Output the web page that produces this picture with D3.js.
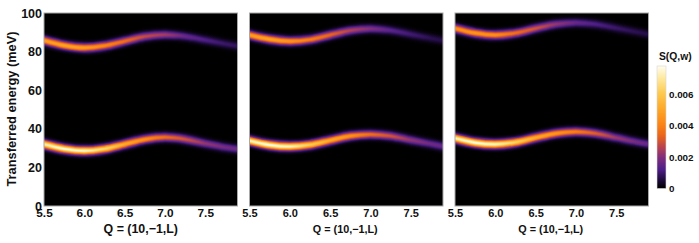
<!DOCTYPE html>
<html>
<head>
<meta charset="utf-8">
<script src="https://cdn.jsdelivr.net/npm/d3@7"></script>
<style>
html, body { margin: 0; padding: 0; background: #fff; overflow: hidden; }
text { font-family: "Liberation Sans", Arial, sans-serif; font-weight: bold; fill: #111; }
</style>
</head>
<body>
<script>
var lValues = [5.5, 5.75, 6.0, 6.25, 6.5, 6.75, 7.0, 7.25, 7.5, 7.75, 7.9];

// band energies (meV)
var upperEnergy1 = [85.8, 83.2, 82.0, 83.0, 85.4, 87.8, 88.7, 87.9, 86.0, 84.0, 82.9];
var lowerEnergy1 = [32.0, 29.6, 28.6, 29.6, 32.0, 34.5, 35.6, 34.6, 32.4, 30.4, 29.5];
var upperEnergy2 = [88.6, 86.4, 85.4, 86.2, 88.6, 90.9, 91.9, 91.0, 89.0, 86.9, 85.8];
var lowerEnergy2 = [33.8, 31.6, 30.8, 31.7, 34.0, 36.3, 37.1, 36.3, 34.2, 32.2, 30.9];
var upperEnergy3 = [92.0, 89.6, 88.6, 89.6, 92.0, 94.2, 95.0, 94.2, 92.2, 90.2, 89.0];
var lowerEnergy3 = [35.1, 32.8, 32.0, 33.0, 35.4, 37.6, 38.5, 37.6, 35.4, 33.2, 32.1];

// peak S(Q,w) along each band
var upperPeak1 = [0.0048, 0.0050, 0.0048, 0.0042, 0.0036, 0.0028, 0.0024, 0.0016, 0.0012, 0.0009, 0.0008];
var lowerPeak1 = [0.0072, 0.0078, 0.0076, 0.0066, 0.0052, 0.0044, 0.0036, 0.0030, 0.0022, 0.0018, 0.0017];
var upperPeak2 = [0.0048, 0.0050, 0.0046, 0.0040, 0.0034, 0.0026, 0.0020, 0.0014, 0.0010, 0.0007, 0.0006];
var lowerPeak2 = [0.0074, 0.0078, 0.0075, 0.0062, 0.0052, 0.0045, 0.0036, 0.0030, 0.0022, 0.0017, 0.0016];
var upperPeak3 = [0.0044, 0.0046, 0.0044, 0.0036, 0.0030, 0.0022, 0.0016, 0.0012, 0.0009, 0.0007, 0.0006];
var lowerPeak3 = [0.0074, 0.0078, 0.0075, 0.0064, 0.0052, 0.0046, 0.0040, 0.0032, 0.0023, 0.0018, 0.0016];

var xTicks = [5.5, 6.0, 6.5, 7.0, 7.5];
var yTicks = [0, 20, 40, 60, 80, 100];
var colorTicks = [0, 0.002, 0.004, 0.006];

// colour bar stops
var colorValues = [0, 0.0005, 0.0012, 0.002, 0.0026, 0.0033, 0.004, 0.005, 0.006, 0.007, 0.0078];
var colorStops = ["#000000", "#1e0b3c", "#4f1f8a", "#85307a", "#b8434f", "#e8641c", "#fb8314", "#fda728", "#fdc94e", "#fee9a0", "#fffff2"];

var panels = [
    {left: 44, right: 237.5, upper: upperEnergy1, lower: lowerEnergy1, upperPeak: upperPeak1, lowerPeak: lowerPeak1, tickSize: 11.8, titleSize: 12.4},
    {left: 249.5, right: 443, upper: upperEnergy2, lower: lowerEnergy2, upperPeak: upperPeak2, lowerPeak: lowerPeak2, tickSize: 11, titleSize: 10.8},
    {left: 455, right: 648.5, upper: upperEnergy3, lower: lowerEnergy3, upperPeak: upperPeak3, lowerPeak: lowerPeak3, tickSize: 11, titleSize: 10.8}
];

var plotTop = 13, plotBottom = 206;

var svg = d3.select("body").append("svg")
    .attr("width", 699)
    .attr("height", 243);
var defs = svg.append("defs");

var yScale = d3.scaleLinear().domain([0, 100]).range([plotBottom, plotTop]);
var color = d3.scaleLinear().domain(colorValues).range(colorStops).clamp(true);

// stroke widths of the stacked layers that make a band's blurred cross-section
var layerWidths = d3.range(17, 0, -1);
var sigma = 2.8;

function drawBand(g, panelIndex, bandName, energy, peak, x) {
    var line = d3.line()
        .x(function(d, i) { return x(lValues[i]); })
        .y(function(d) { return yScale(d); })
        .curve(d3.curveCatmullRom.alpha(0.5));

    layerWidths.forEach(function(w) {
        var frac = Math.exp(-(w / 2) * (w / 2) / (2 * sigma * sigma));
        var id = "band" + panelIndex + bandName + w;
        var grad = defs.append("linearGradient")
            .attr("id", id)
            .attr("gradientUnits", "userSpaceOnUse")
            .attr("x1", x(lValues[0]))
            .attr("x2", x(lValues[lValues.length - 1]))
            .attr("y1", 0)
            .attr("y2", 0);
        grad.selectAll("stop")
            .data(peak)
            .enter().append("stop")
            .attr("offset", function(d, i) {
                return (lValues[i] - lValues[0]) / (lValues[lValues.length - 1] - lValues[0]);
            })
            .attr("stop-color", function(d) { return color(d * frac); });
        g.append("path")
            .attr("d", line(energy))
            .attr("fill", "none")
            .attr("stroke", "url(#" + id + ")")
            .attr("stroke-width", w)
            .attr("stroke-linecap", "square");
    });
}

panels.forEach(function(p, i) {
    var x = d3.scaleLinear().domain([5.5, 7.9]).range([p.left, p.right]);

    defs.append("clipPath")
        .attr("id", "clip" + i)
        .append("rect")
        .attr("x", p.left)
        .attr("y", plotTop)
        .attr("width", p.right - p.left)
        .attr("height", plotBottom - plotTop);

    svg.append("rect")
        .attr("x", p.left)
        .attr("y", plotTop)
        .attr("width", p.right - p.left)
        .attr("height", plotBottom - plotTop)
        .attr("fill", "#000");

    var g = svg.append("g").attr("clip-path", "url(#clip" + i + ")");
    drawBand(g, i, "upper", p.upper, p.upperPeak, x);
    drawBand(g, i, "lower", p.lower, p.lowerPeak, x);

    svg.append("rect")
        .attr("x", p.left)
        .attr("y", plotTop)
        .attr("width", p.right - p.left)
        .attr("height", plotBottom - plotTop)
        .attr("fill", "none")
        .attr("stroke", "#a8a8a8")
        .attr("stroke-width", 1);

    var xAxis = svg.append("g")
        .attr("transform", "translate(0," + plotBottom + ")")
        .call(d3.axisBottom(x).tickValues(xTicks).tickSize(0).tickPadding(3).tickFormat(d3.format(".1f")));
    xAxis.select(".domain").remove();
    xAxis.selectAll("text").style("font-size", p.tickSize + "px");

    svg.append("text")
        .attr("x", (p.left + p.right) / 2 + (i == 0 ? 0 : -1))
        .attr("y", 233)
        .attr("text-anchor", "middle")
        .style("font-size", p.titleSize + "px")
        .text("Q = (10,\u22121,L)");
});

var yAxis = svg.append("g")
    .attr("transform", "translate(44,0)")
    .call(d3.axisLeft(yScale).tickValues(yTicks).tickSize(0).tickPadding(2));
yAxis.select(".domain").remove();
yAxis.selectAll("text").style("font-size", "12.5px");

svg.append("text")
    .attr("transform", "translate(15.5,109) rotate(-90)")
    .attr("text-anchor", "middle")
    .style("font-size", "12.8px")
    .text("Transferred energy (meV)");

// colour bar
var barLeft = 657, barWidth = 9, barBottom = 188.5;
var barScale = d3.scaleLinear().domain([0, 0.0078]).range([barBottom, 66]);
var barSteps = d3.range(0, 0.0078, 0.0078 / 122);

svg.append("g").selectAll("rect")
    .data(barSteps)
    .enter().append("rect")
    .attr("x", barLeft)
    .attr("y", function(d) { return barScale(d) - 1.5; })
    .attr("width", barWidth)
    .attr("height", 1.5)
    .attr("fill", function(d) { return color(d); });

svg.append("rect")
    .attr("x", barLeft)
    .attr("y", 66)
    .attr("width", barWidth)
    .attr("height", barBottom - 66)
    .attr("fill", "none")
    .attr("stroke", "#d8d8d8")
    .attr("stroke-width", 0.6);

var barAxis = svg.append("g")
    .attr("transform", "translate(" + (barLeft + barWidth) + ",0)")
    .call(d3.axisRight(barScale).tickValues(colorTicks).tickSize(0).tickPadding(3)
        .tickFormat(function(d) { return d == 0 ? "0" : d3.format(".3f")(d); }));
barAxis.select(".domain").remove();
barAxis.selectAll("text").style("font-size", "9.8px");

svg.append("text")
    .attr("x", 659)
    .attr("y", 60)
    .style("font-size", "10.3px")
    .text("S(Q,w)");
</script>
</body>
</html>
